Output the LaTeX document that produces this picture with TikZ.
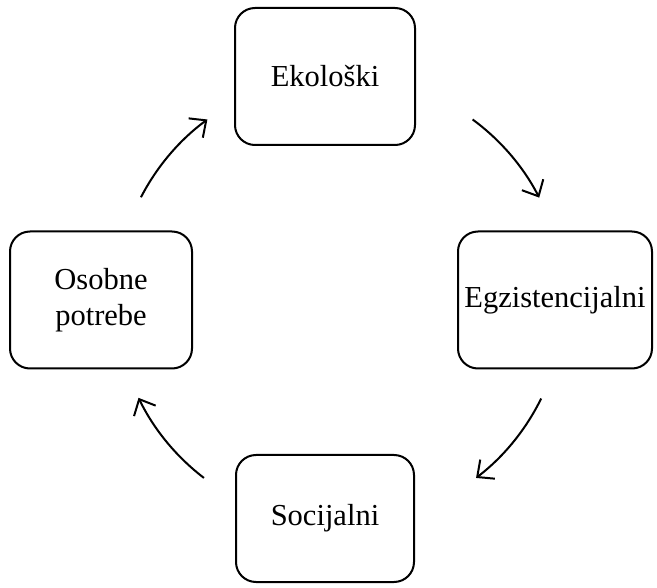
\documentclass[tikz,border=0pt]{standalone}
\usepackage{fontspec}
\setmainfont{Liberation Serif}
\usetikzlibrary{arrows.meta}
\begin{document}
\begin{tikzpicture}[x=1pt,y=-1pt,
  box/.style={draw,line width=2pt,rounded corners=20pt,align=center,
    font=\fontsize{30.5}{36}\selectfont,inner sep=0pt},
  cyc/.style={line width=2pt,-{Straight Barb[length=13pt,width=24pt,line width=2pt]}}]
\useasboundingbox (0,0) rectangle (657,588);
\node[box,minimum width=180pt,minimum height=137pt] (eko) at (325,76.5) {Ekološki};
\node[box,minimum width=194pt,minimum height=137pt] (egz) at (555,300) {Egzistencijalni};
\node[box,minimum width=178pt,minimum height=127pt] (soc) at (325,518.5) {Socijalni};
\node[box,minimum width=182pt,minimum height=137pt] (oso) at (101,300) {Osobne\\potrebe};
\coordinate (c) at (340,300);
\draw[cyc] ([shift={(53.7:224pt)}]c) arc[start angle=53.7,end angle=27.2,radius=224pt];
\draw[cyc] ([shift={(-26.1:224pt)}]c) arc[start angle=-26.1,end angle=-52.6,radius=224pt];
\draw[cyc] ([shift={(-127.4:224pt)}]c) arc[start angle=-127.4,end angle=-154.1,radius=224pt];
\draw[cyc] ([shift={(152.7:224pt)}]c) arc[start angle=152.7,end angle=126.3,radius=224pt];
\end{tikzpicture}
\end{document}
